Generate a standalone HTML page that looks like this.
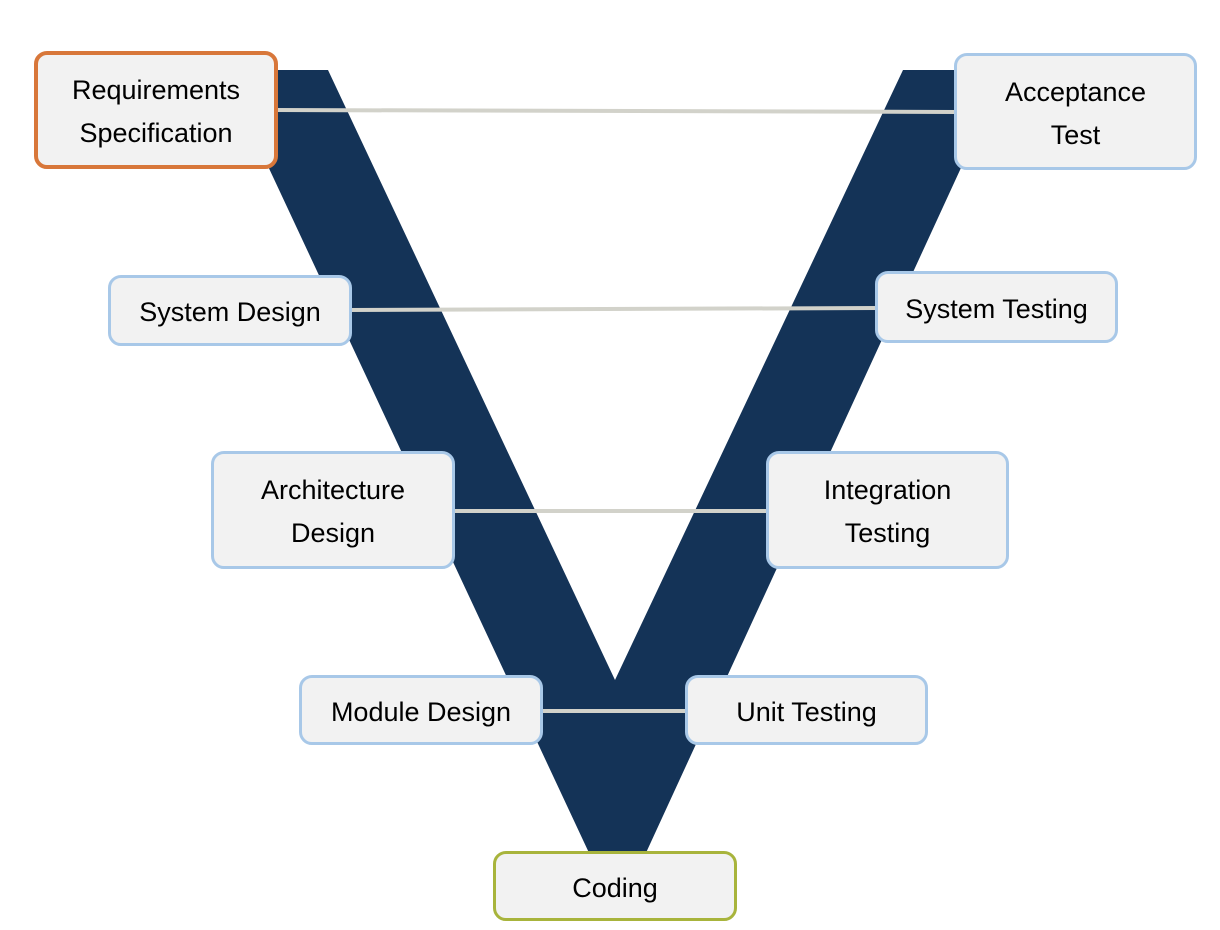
<!DOCTYPE html>
<html><head><meta charset="utf-8"><style>
html,body{margin:0;padding:0;background:#fff;}
body{width:1220px;height:930px;position:relative;overflow:hidden;font-family:"Liberation Sans",Arial,sans-serif;}
.b{position:absolute;box-sizing:border-box;background:#F2F2F2;border:3px solid #A8C8E8;border-radius:13px;display:flex;align-items:center;justify-content:center;text-align:center;font-size:27px;line-height:43px;color:#000;padding-top:4px;}
svg{position:absolute;left:0;top:0;}
</style></head><body>
<svg width="1220" height="930">
<polygon points="223,70 328,70 615,680 903,70 1006,70 645,855 590,855" fill="#143357"/>
<g stroke="#D2D2CA" stroke-width="4" fill="none">
<line x1="275" y1="110" x2="957" y2="112"/>
<line x1="349" y1="310" x2="878" y2="308"/>
<line x1="452" y1="511" x2="769" y2="511"/>
<line x1="540" y1="711" x2="688" y2="711"/>
</g>
</svg>
<div class="b" style="left:34px;top:51px;width:244px;height:118px;border:4px solid #D8773A;">Requirements<br>Specification</div>
<div class="b" style="left:954px;top:53px;width:243px;height:117px;">Acceptance<br>Test</div>
<div class="b" style="left:108px;top:275px;width:244px;height:71px;">System Design</div>
<div class="b" style="left:875px;top:271px;width:243px;height:72px;">System Testing</div>
<div class="b" style="left:211px;top:451px;width:244px;height:118px;">Architecture<br>Design</div>
<div class="b" style="left:766px;top:451px;width:243px;height:118px;">Integration<br>Testing</div>
<div class="b" style="left:299px;top:675px;width:244px;height:70px;">Module Design</div>
<div class="b" style="left:685px;top:675px;width:243px;height:70px;">Unit Testing</div>
<div class="b" style="left:493px;top:851px;width:244px;height:70px;border-color:#A8B43C;">Coding</div>
</body></html>
